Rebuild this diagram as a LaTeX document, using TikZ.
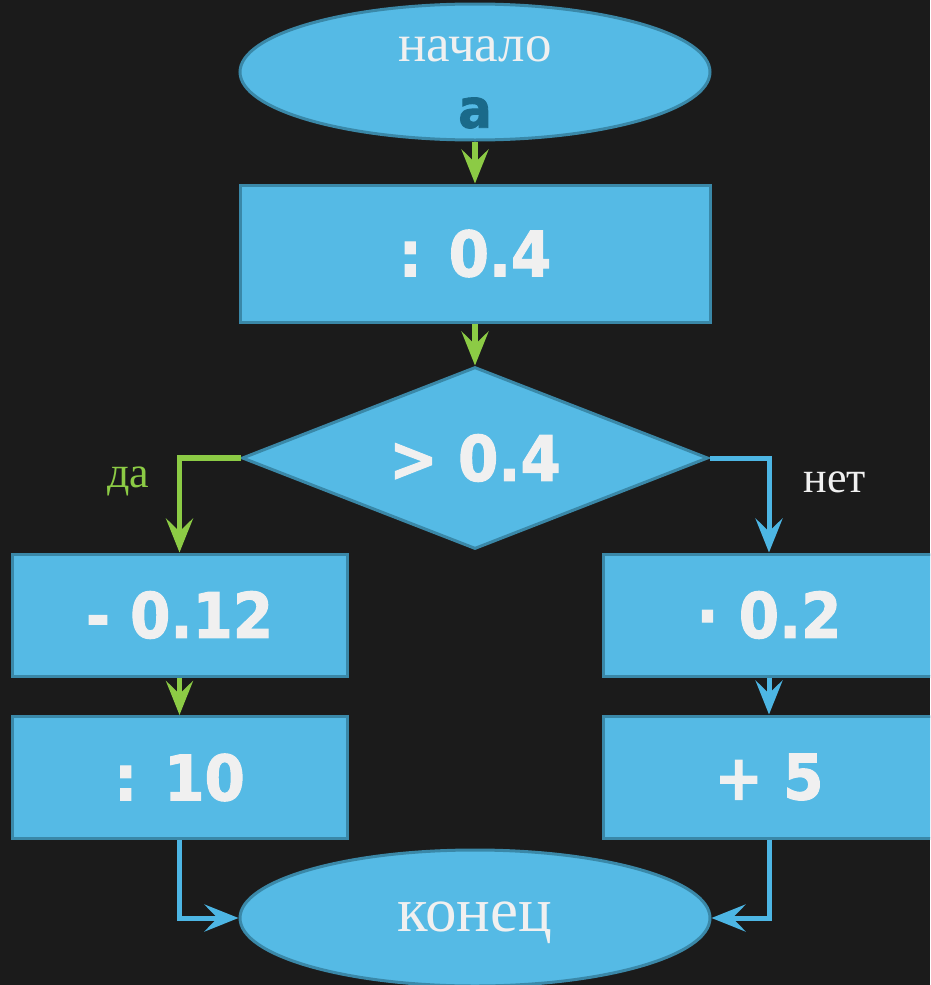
\documentclass[tikz,border=0pt]{standalone}
\usepackage{fontspec}
\setmainfont{Liberation Serif}
\newfontfamily\numfont{DejaVu Sans}[FakeStretch=0.92,FakeBold=1.6]
\usetikzlibrary{shapes.geometric,arrows.meta}
\definecolor{bg}{HTML}{1B1B1B}
\definecolor{boxfill}{HTML}{55BAE5}
\definecolor{boxline}{HTML}{3A88A8}
\definecolor{grn}{HTML}{8CCB45}
\definecolor{blu}{HTML}{4DB6E4}
\definecolor{txt}{HTML}{F0F0F0}
\definecolor{darkt}{HTML}{1A6A8A}
\begin{document}
\begin{tikzpicture}[x=1pt,y=-1pt,
  shapebox/.style={draw=boxline, line width=3pt, fill=boxfill},
  term/.style={shapebox, ellipse, minimum width=470pt, minimum height=136pt, inner sep=0pt},
  procbox/.style={shapebox, rectangle, minimum width=335pt, minimum height=122pt, inner sep=0pt,
     font=\numfont\bfseries\fontsize{63}{70}\selectfont, text=txt},
  decision/.style={shapebox, diamond, aspect=2.6, minimum width=466pt, minimum height=182pt, inner sep=0pt,
     font=\numfont\bfseries\fontsize{63}{70}\selectfont, text=txt},
  serif/.style={font=\fontsize{53}{58}\selectfont, text=txt, inner sep=0pt},
  tip/.style={-{Stealth[length=34pt,width=27pt,inset=13pt]}},
  garrow/.style={draw=grn, line width=5.5pt, tip},
  barrow/.style={draw=blu, line width=5pt, tip}]
\fill[bg] (0,0) rectangle (930,985);
\useasboundingbox (0,0) rectangle (930,985);
\begin{scope}
\clip (0,0) rectangle (930,985);
\node[term] (start) at (475,72) {};
\node[serif] (startlbl) at (475,49) {начало};
\node[font=\numfont\bfseries\fontsize{54}{58}\selectfont, text=darkt, inner sep=0pt] (avar) at (475,113) {a};
\node[procbox, minimum width=470pt, minimum height=137pt] (p1) at (475,253.5) {: 0.4};
\node[decision] (dec) at (475,458) {> 0.4};
\node[procbox] (l1) at (179.5,615) {- 0.12};
\node[procbox] (l2) at (179.5,777.5) {: 10};
\node[procbox, minimum width=332pt] (r1) at (769,615) {· 0.2};
\node[procbox, minimum width=332pt] (r2) at (769,777) {+ 5};
\node[term] (stop) at (475,918) {};
\node[serif, font=\fontsize{63}{66}\selectfont] (stoplbl) at (475,923) {конец};
\node[font=\fontsize{44}{48}\selectfont, text=grn, inner sep=0pt] (yes) at (128,481) {да};
\node[font=\fontsize{44}{48}\selectfont, text=txt, inner sep=0pt] (no) at (835,482) {нет};
\draw[garrow] (start.south) -- (p1.north);
\draw[garrow] (p1.south) -- (dec.north);
\draw[garrow] (dec.west) -| (l1.north);
\draw[barrow] (dec.east) -| (r1.north);
\draw[garrow] (l1.south) -- (l2.north);
\draw[barrow] (r1.south) -- (r2.north);
\draw[barrow] (l2.south) |- (stop.west);
\draw[barrow] (r2.south) |- (stop.east);
\end{scope}
\end{tikzpicture}
\end{document}
